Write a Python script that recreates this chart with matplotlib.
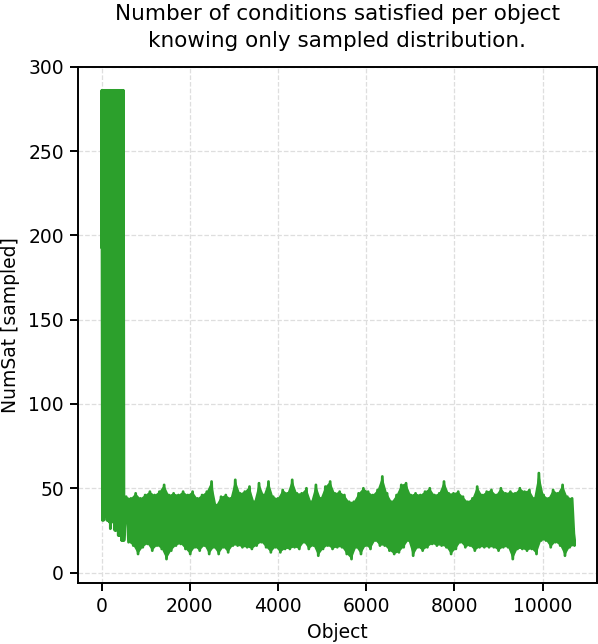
import numpy as np
import matplotlib
matplotlib.use("Agg")
import matplotlib.pyplot as plt

# ---- data (NumSat per object) ----
start_value = 193
early_highs = [286, 286, 286, 286, 286, 286, 286, 286, 286, 286,
               286, 286, 286, 286, 286, 286, 286, 286, 286, 286]
early_lows = [31, 31, 33, 37, 31, 31, 30, 26, 30, 30,
              30, 25, 25, 48, 22, 22, 22, 19, 19, 19]

band_highs = [45, 44, 47, 44, 46, 48, 46, 48, 52, 46, 47, 46, 48, 46, 48, 44,
              46, 48, 54, 40, 45, 46, 44, 55, 47, 48, 51, 42, 53, 46, 54, 45,
              44, 49, 47, 55, 47, 47, 50, 42, 52, 44, 51, 54, 47, 48, 46, 42,
              42, 47, 50, 48, 46, 49, 57, 47, 42, 46, 52, 53, 46, 47, 46, 48,
              50, 46, 47, 54, 47, 47, 48, 45, 42, 44, 51, 46, 48, 49, 46, 50,
              47, 48, 47, 50, 48, 49, 44, 59, 46, 44, 49, 47, 52, 45, 44]
band_lows = [18, 16, 11, 15, 17, 13, 16, 14, 8, 13, 16, 17, 14, 11, 15, 13,
             16, 11, 15, 11, 15, 12, 16, 16, 15, 15, 14, 16, 18, 15, 12, 15,
             12, 14, 14, 15, 14, 18, 14, 16, 10, 14, 16, 14, 15, 15, 11, 8,
             15, 11, 16, 14, 19, 16, 16, 13, 11, 12, 15, 19, 10, 15, 13, 15,
             17, 16, 16, 15, 11, 14, 18, 15, 16, 13, 15, 15, 15, 15, 13, 15,
             15, 8, 14, 14, 13, 14, 11, 19, 19, 15, 18, 16, 10, 15, 16]
end_value = 25

GREEN = '#2ca02c'

# ---- build the series (positions along the object axis) ----
early_hi_x = np.linspace(6, 495, len(early_highs))
early_lo_x = early_hi_x + 13
band_hi_x = np.linspace(558, 10670, len(band_highs))
band_lo_x = band_hi_x + 54

def interleave(a, b):
    out = np.empty(len(a) + len(b))
    out[0::2] = a
    out[1::2] = b
    return out

x = np.concatenate([[0], interleave(early_hi_x, early_lo_x),
                    interleave(band_hi_x, band_lo_x), [10700]])
y = np.concatenate([[start_value], interleave(early_highs, early_lows),
                    interleave(band_highs, band_lows), [end_value]])

# ---- figure ----
fig = plt.figure(figsize=(5.98, 6.44), dpi=100)
ax = fig.add_axes([0.1304, 0.0952, 0.8679, 0.8012])

# dense band: region between the upper and lower envelope of the series
ax.fill(np.concatenate([band_hi_x, band_lo_x[::-1]]),
        np.concatenate([band_highs, band_lows[::-1]]),
        color=GREEN, lw=0)
ax.plot(x, y, color=GREEN, lw=2.0)

ax.set_xlim(-535, 11235)
ax.set_ylim(-6, 300)
ax.set_xticks([0, 2000, 4000, 6000, 8000, 10000])
ax.set_yticks([0, 50, 100, 150, 200, 250, 300])
ax.grid(True, color='#dedede', linestyle='--', linewidth=0.9)
ax.set_axisbelow(True)
for s in ax.spines.values():
    s.set_linewidth(1.4)
ax.tick_params(labelsize=13.5, width=1.4, length=6, pad=4)

ax.set_xlabel('Object', fontsize=13.5, labelpad=5)
ax.set_ylabel('NumSat [sampled]', fontsize=13.5, labelpad=6)
ax.set_title('Number of conditions satisfied per object\nknowing only sampled distribution.',
             fontsize=15.5, pad=14, linespacing=1.45)

fig.savefig('out.png', dpi=100)
